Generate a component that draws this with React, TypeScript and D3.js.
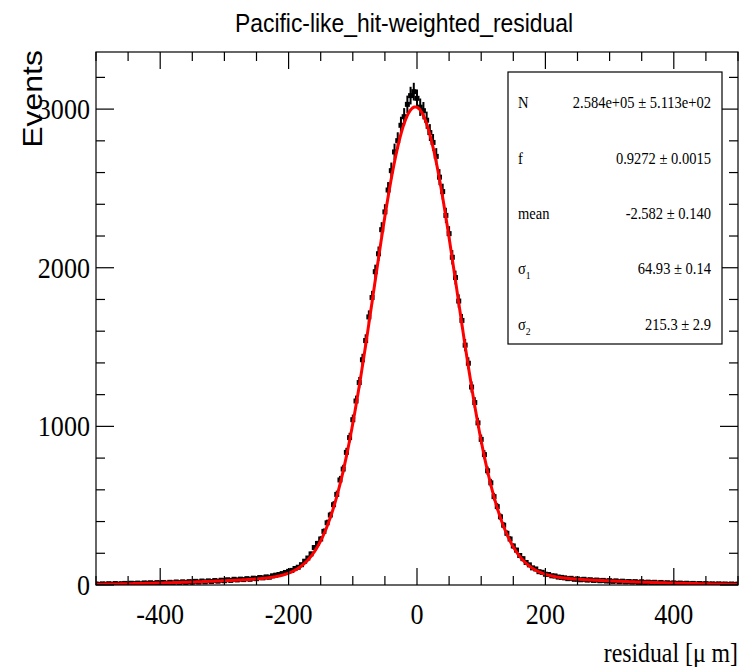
import React from "react";
import * as d3 from "d3";

// ---- data ----
const TITLE = "Pacific-like_hit-weighted_residual";
const X_TITLE = "residual [\u03bc m]";
const Y_TITLE = "Events";
const BIN_START = -500;
const BIN_STEP = 5;
const BIN_WIDTH = 2; // histogram bin width in μm
const counts: number[] = [
  6, 4, 7, 5, 8, 5, 9, 6, 8, 10, 7, 11, 9, 12, 8, 13, 11, 14, 10, 15,
  12, 16, 12, 17, 14, 19, 15, 20, 16, 21, 18, 23, 19, 25, 20, 26, 22, 28, 24, 30,
  27, 33, 29, 36, 32, 37, 34, 40, 36, 43, 40, 47, 45, 51, 49, 58, 62, 66, 72, 79,
  86, 92, 104, 112, 128, 150, 170, 196, 236, 262, 290, 338, 392, 441, 506, 571, 662, 731, 836, 929,
  1042, 1160, 1276, 1420, 1541, 1690, 1812, 1975, 2088, 2240, 2352, 2490, 2612, 2730, 2801, 2898, 2952, 3030, 3085, 3110,
  3068,
  3012, 2990, 2930, 2852, 2790, 2702, 2571, 2480, 2330, 2215, 2066, 1938, 1790, 1668, 1512, 1398, 1248, 1150, 1022, 918,
  822, 720, 644, 557, 494, 430, 377, 326, 290, 246, 220, 186, 166, 142, 127, 108, 101, 84, 80, 68,
  66, 58, 57, 50, 48, 45, 40, 42, 36, 38, 33, 36, 31, 33, 29, 31, 27, 29, 25, 27,
  23, 26, 21, 24, 20, 22, 19, 21, 17, 20, 16, 18, 15, 17, 13, 16, 12, 14, 11, 13,
  10, 12, 9, 11, 8, 10, 7, 9, 7, 8, 6, 7, 5, 7, 5, 6, 4, 6, 4, 5,
];

// fit result shown in the stats box
const statNames = ["N", "f", "mean", "\u03c3", "\u03c3"];
const statSubs = ["", "", "", "1", "2"];
const statValues = [
  "2.584e+05 \u00b1 5.113e+02",
  "0.9272 \u00b1 0.0015",
  "-2.582 \u00b1 0.140",
  "64.93 \u00b1 0.14",
  "215.3 \u00b1 2.9",
];
const FIT_N = 2.584e5;
const FIT_F = 0.9272;
const FIT_MEAN = -2.582;
const FIT_S1 = 64.93;
const FIT_S2 = 215.3;

const xTicks = [-400, -200, 0, 200, 400];
const yTicks = [0, 1000, 2000, 3000];

// ---- layout ----
const W = 741;
const H = 667;
const L = 96;
const R = 738;
const T = 52;
const B = 585;
const SERIF = "'Liberation Serif', 'DejaVu Serif', serif";
const SANS = "'Liberation Sans', Arial, sans-serif";

function SText(props: {
  x: number;
  y: number;
  sx?: number;
  anchor?: string;
  size: number;
  family: string;
  children: React.ReactNode;
}) {
  const { x, y, sx = 0.88, anchor = "start", size, family, children } = props;
  return (
    <text
      transform={`translate(${x},${y}) scale(${sx},1)`}
      textAnchor={anchor}
      fontFamily={family}
      fontSize={size}
      fill="#000"
    >
      {children}
    </text>
  );
}

export default function App() {
  const x = d3.scaleLinear().domain([-500, 500]).range([L, R]);
  const y = d3.scaleLinear().domain([0, 3360]).range([B, T]);

  const points = counts.map((c, i) => ({ x: BIN_START + i * BIN_STEP, c }));

  const fit = (v: number) => {
    const g = (s: number) =>
      Math.exp(-((v - FIT_MEAN) ** 2) / (2 * s * s)) / (s * Math.sqrt(2 * Math.PI));
    return FIT_N * BIN_WIDTH * (FIT_F * g(FIT_S1) + (1 - FIT_F) * g(FIT_S2));
  };
  const fitPts = d3.range(-500, 500.01, 1).map((v) => [v, fit(v)] as [number, number]);
  const fitPath = d3
    .line<[number, number]>()
    .x((d) => x(d[0]))
    .y((d) => y(d[1]))(fitPts) as string;

  const xMinor = d3.range(-500, 500.01, 50);
  const yMinor = d3.range(0, 3360, 200);

  const boxL = 508, boxR = 722, boxT = 72, boxB = 344;
  const rowY = [102, 158, 213, 268, 324];

  return (
    <svg
      width={W}
      height={H}
      style={{ position: "absolute", left: 0, top: 0, background: "#fff" }}
    >
      <rect x={0} y={0} width={W} height={H} fill="#fff" />
      <SText x={404} y={32} anchor="middle" size={26} sx={0.88} family={SANS}>
        {TITLE}
      </SText>

      <defs>
        <clipPath id="plotclip">
          <rect x={L} y={T} width={R - L} height={B - T} />
        </clipPath>
      </defs>

      {/* data */}
      <g clipPath="url(#plotclip)">
        {points.map((p, i) => {
          const e = Math.sqrt(p.c);
          return (
            <g key={i}>
              <line
                x1={x(p.x)}
                x2={x(p.x)}
                y1={y(p.c + e)}
                y2={y(Math.max(0, p.c - e))}
                stroke="#000"
                strokeWidth={2}
              />
              <rect
                x={x(p.x) - 2.5}
                y={y(p.c) - 2.5}
                width={5}
                height={5}
                fill="#000"
              />
            </g>
          );
        })}
        <path d={fitPath} fill="none" stroke="#ff0000" strokeWidth={3} />
      </g>

      {/* frame */}
      <rect x={L} y={T} width={R - L} height={B - T} fill="none" stroke="#000" strokeWidth={1.2} />

      {/* x ticks bottom and top */}
      {xMinor.map((v) => {
        const major = v % 200 === 0;
        const len = major ? 17 : 9;
        return (
          <g key={"xt" + v}>
            <line x1={x(v)} x2={x(v)} y1={B} y2={B - len} stroke="#000" strokeWidth={1.2} />
            <line x1={x(v)} x2={x(v)} y1={T} y2={T + len} stroke="#000" strokeWidth={1.2} />
          </g>
        );
      })}
      {/* y ticks left and right */}
      {yMinor.map((v) => {
        const major = v % 1000 === 0;
        const len = major ? 18 : 9;
        return (
          <g key={"yt" + v}>
            <line x1={L} x2={L + len} y1={y(v)} y2={y(v)} stroke="#000" strokeWidth={1.2} />
            <line x1={R} x2={R - len} y1={y(v)} y2={y(v)} stroke="#000" strokeWidth={1.2} />
          </g>
        );
      })}

      {xTicks.map((v) => (
        <SText key={"xl" + v} x={x(v)} y={624} anchor="middle" size={29} sx={0.9} family={SERIF}>
          {v}
        </SText>
      ))}
      {yTicks.map((v) => (
        <SText key={"yl" + v} x={90} y={y(v) + 10} anchor="end" size={29} sx={0.9} family={SERIF}>
          {v}
        </SText>
      ))}

      <SText x={738} y={662} anchor="end" size={28} sx={0.85} family={SERIF}>
        {X_TITLE}
      </SText>
      <text
        transform="translate(42,50) scale(0.85,1) rotate(-90)"
        textAnchor="end"
        fontFamily={SANS}
        fontSize={32}
        fill="#000"
      >
        {Y_TITLE}
      </text>

      {/* stats box */}
      <rect x={boxL} y={boxT} width={boxR - boxL} height={boxB - boxT} fill="#fff" stroke="#000" strokeWidth={1.2} />
      {statNames.map((n, i) => (
        <g key={"st" + i}>
          <SText x={518} y={rowY[i] + 6} size={16.5} sx={0.88} family={SERIF}>
            {n}
            {statSubs[i] ? (
              <tspan fontSize={11} dy={5}>
                {statSubs[i]}
              </tspan>
            ) : null}
          </SText>
          <SText x={711} y={rowY[i] + 6} anchor="end" size={16.5} sx={0.88} family={SERIF}>
            {statValues[i]}
          </SText>
        </g>
      ))}
    </svg>
  );
}
